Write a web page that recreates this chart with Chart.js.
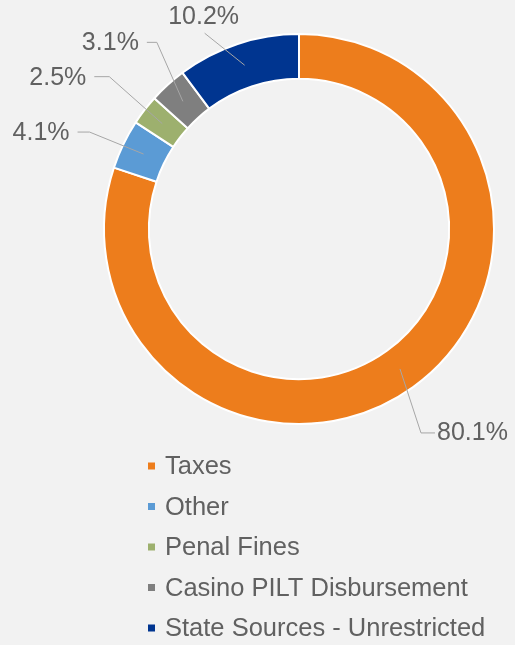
<!DOCTYPE html>
<html lang="en">
<head>
    <meta charset="UTF-8">
    <title>Revenue Sources</title>
    <script src="https://cdn.jsdelivr.net/npm/chart.js"></script>
    <style>
        html, body {
            margin: 0;
            padding: 0;
            background-color: #f2f2f2;
        }
        .wrap {
            position: relative;
            width: 515px;
            height: 645px;
        }
    </style>
</head>
<body>
    <div class="wrap">
        <canvas id="fuentes"></canvas>
    </div>

    <script>
        // Revenue sources (percent of total)
        const categorias = ['Taxes', 'Other', 'Penal Fines', 'Casino PILT Disbursement', 'State Sources - Unrestricted'];
        const porcentajes = [80.1, 4.1, 2.5, 3.1, 10.2];
        const colores = ['#ED7D1C', '#5B9BD5', '#9DB06E', '#7F7F7F', '#003590'];

        // Leader line layout per slice: elbow offset from the slice centre, tail length, label side
        const guias = [
            { dx: 21, dy: 64, tail: 14, side: 'right' },
            { dx: -54, dy: -22, tail: 12, side: 'left' },
            { dx: -53, dy: -47, tail: 15, side: 'left' },
            { dx: -26, dy: -59, tail: 10, side: 'left' },
            { dx: -40, dy: -32, tail: 0, side: 'top' }
        ];

        const fuente = '25px "Liberation Sans", Arial, sans-serif';
        const fuenteLeyenda = '25.5px "Liberation Sans", Arial, sans-serif';
        const colorTexto = '#616161';

        // Percent labels with leader lines
        const etiquetas = {
            id: 'etiquetas',
            afterDatasetsDraw(chart) {
                const ctx = chart.ctx;
                const arcos = chart.getDatasetMeta(0).data;
                ctx.save();
                ctx.font = fuente;
                ctx.fillStyle = colorTexto;
                ctx.strokeStyle = '#a6a6a6';
                ctx.lineWidth = 1;
                arcos.forEach((arco, i) => {
                    const p = arco.getCenterPoint();
                    const g = guias[i];
                    const ex = p.x + g.dx, ey = p.y + g.dy;
                    let tx = ex;
                    if (g.side === 'right') tx = ex + g.tail;
                    if (g.side === 'left') tx = ex - g.tail;
                    ctx.beginPath();
                    ctx.moveTo(p.x, p.y);
                    ctx.lineTo(ex, ey);
                    ctx.lineTo(tx, ey);
                    ctx.stroke();

                    const texto = porcentajes[i].toFixed(1) + '%';
                    ctx.textBaseline = 'middle';
                    if (g.side === 'right') {
                        ctx.textAlign = 'left';
                        ctx.fillText(texto, tx + 2, ey);
                    } else if (g.side === 'left') {
                        ctx.textAlign = 'right';
                        ctx.fillText(texto, tx - 8, ey + 1);
                    } else {
                        ctx.textAlign = 'center';
                        ctx.fillText(texto, ex - 1, ey - 16);
                    }
                });
                ctx.restore();
            }
        };

        // Legend stacked in a single column under the ring
        const leyenda = {
            id: 'leyenda',
            afterDraw(chart) {
                const ctx = chart.ctx;
                const x0 = 148, y0 = 466, paso = 40.5, caja = 7;
                ctx.save();
                ctx.font = fuenteLeyenda;
                ctx.textAlign = 'left';
                ctx.textBaseline = 'middle';
                chart.data.labels.forEach((nombre, i) => {
                    const y = y0 + i * paso;
                    ctx.fillStyle = chart.data.datasets[0].backgroundColor[i];
                    ctx.fillRect(x0, y - caja / 2, caja, caja);
                    ctx.fillStyle = colorTexto;
                    ctx.fillText(nombre, x0 + 17, y + 1);
                });
                ctx.restore();
            }
        };

        new Chart(document.getElementById('fuentes'), {
            type: 'doughnut',
            data: {
                labels: categorias,
                datasets: [{
                    data: porcentajes,
                    backgroundColor: colores,
                    borderColor: '#ffffff',
                    borderWidth: 2
                }]
            },
            options: {
                responsive: true,
                maintainAspectRatio: false,
                animation: false,
                cutout: '77%',
                layout: {
                    padding: { left: 103, right: 20, top: 33, bottom: 220 }
                },
                plugins: {
                    legend: { display: false },
                    tooltip: { enabled: false }
                }
            },
            plugins: [etiquetas, leyenda]
        });
    </script>
</body>
</html>
